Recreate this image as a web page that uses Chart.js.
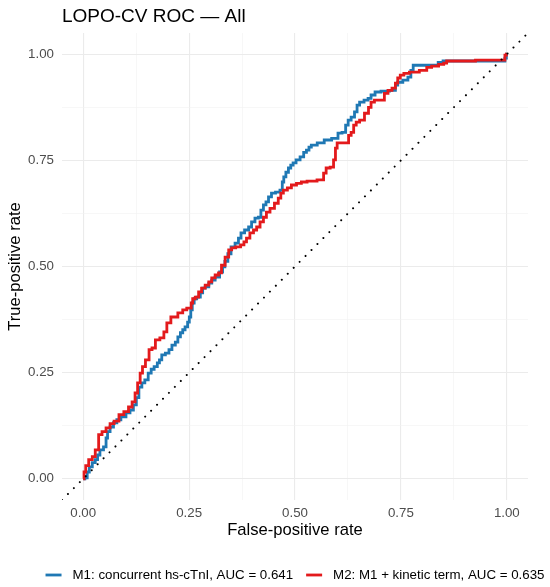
<!DOCTYPE html>
<html>
<head>
<meta charset="utf-8">
<script src="https://cdn.jsdelivr.net/npm/chart.js@4.4.1/dist/chart.umd.min.js"></script>
<style>
  html, body { margin: 0; padding: 0; background: #ffffff; }
  #wrap { width: 550px; height: 587px; position: relative; }
</style>
</head>
<body>
<div id="wrap"><canvas id="c"></canvas></div>
<script>
// ---- Data ----
const chartTitle = 'LOPO-CV ROC \u2014 All';
const xAxisTitle = 'False-positive rate';
const yAxisTitle = 'True-positive rate';
const tickValues = [0, 0.25, 0.5, 0.75, 1];
const minorGridValues = [0.125, 0.375, 0.625, 0.875];

const m1Label = 'M1: concurrent hs-cTnI, AUC = 0.641';
const m1FPR = [0,0.008,0.011,0.018,0.025,0.032,0.036,0.043,0.053,0.055,0.06,0.067,0.076,0.083,0.095,0.107,0.114,0.123,0.128,0.135,0.142,0.149,0.158,0.163,0.172,0.178,0.182,0.189,0.199,0.206,0.213,0.222,0.225,0.234,0.236,0.245,0.248,0.253,0.255,0.26,0.264,0.272,0.281,0.283,0.293,0.3,0.307,0.316,0.328,0.33,0.339,0.344,0.354,0.363,0.37,0.375,0.387,0.394,0.401,0.41,0.417,0.422,0.429,0.434,0.441,0.448,0.46,0.469,0.471,0.476,0.481,0.488,0.492,0.499,0.506,0.518,0.523,0.531,0.535,0.542,0.563,0.575,0.598,0.605,0.617,0.622,0.629,0.636,0.645,0.648,0.657,0.669,0.676,0.683,0.695,0.711,0.735,0.739,0.746,0.763,0.77,0.777,0.781,0.836,0.84,0.859,0.993,0.998,1.0];
const m1TPR = [0,0.002,0.016,0.028,0.038,0.045,0.056,0.068,0.075,0.096,0.111,0.122,0.132,0.139,0.146,0.155,0.162,0.174,0.191,0.216,0.226,0.233,0.249,0.258,0.264,0.273,0.28,0.292,0.296,0.304,0.315,0.322,0.334,0.344,0.351,0.358,0.369,0.381,0.398,0.414,0.424,0.428,0.438,0.449,0.452,0.461,0.468,0.475,0.487,0.499,0.512,0.53,0.546,0.555,0.567,0.579,0.586,0.593,0.605,0.614,0.616,0.633,0.645,0.652,0.664,0.673,0.675,0.68,0.699,0.711,0.722,0.732,0.739,0.744,0.751,0.758,0.769,0.774,0.781,0.786,0.791,0.798,0.802,0.814,0.816,0.833,0.845,0.852,0.864,0.88,0.887,0.892,0.896,0.904,0.911,0.913,0.915,0.927,0.934,0.939,0.946,0.962,0.974,0.974,0.981,0.984,0.984,0.991,1.0];

const m2Label = 'M2: M1 + kinetic term, AUC = 0.635';
const m2FPR = [0,0.004,0.008,0.018,0.025,0.032,0.041,0.048,0.06,0.067,0.079,0.09,0.102,0.112,0.119,0.126,0.131,0.138,0.142,0.152,0.159,0.166,0.175,0.187,0.194,0.201,0.213,0.234,0.236,0.253,0.257,0.26,0.269,0.276,0.283,0.293,0.3,0.307,0.316,0.323,0.33,0.34,0.347,0.354,0.366,0.377,0.382,0.389,0.398,0.406,0.413,0.422,0.429,0.436,0.446,0.457,0.464,0.469,0.476,0.488,0.495,0.512,0.518,0.539,0.565,0.57,0.577,0.589,0.593,0.598,0.601,0.624,0.629,0.636,0.641,0.648,0.657,0.671,0.676,0.683,0.692,0.706,0.716,0.723,0.735,0.739,0.746,0.751,0.763,0.777,0.81,0.812,0.833,0.845,0.857,0.859,0.993,0.998,1.0];
const m2TPR = [0,0.016,0.031,0.045,0.052,0.068,0.104,0.111,0.12,0.13,0.136,0.151,0.158,0.169,0.181,0.202,0.226,0.249,0.264,0.28,0.304,0.308,0.327,0.332,0.346,0.367,0.381,0.391,0.398,0.402,0.414,0.424,0.428,0.44,0.449,0.456,0.464,0.473,0.48,0.485,0.503,0.522,0.539,0.544,0.546,0.551,0.558,0.567,0.579,0.586,0.593,0.605,0.616,0.628,0.637,0.649,0.661,0.673,0.68,0.685,0.692,0.696,0.699,0.701,0.704,0.72,0.732,0.734,0.751,0.779,0.791,0.791,0.809,0.816,0.833,0.84,0.845,0.861,0.875,0.887,0.892,0.892,0.908,0.915,0.92,0.932,0.944,0.951,0.955,0.958,0.962,0.969,0.972,0.976,0.979,0.984,0.986,0.998,1.0];

const chanceX = [-0.05, 1.05];
const chanceY = [-0.05, 1.05];

// ---- Style ----
const FONT = "'Liberation Sans', Arial, Helvetica, sans-serif";
const BLUE = '#1F78B4';
const RED = '#E31A1C';

function pts(xs, ys) { return xs.map((x, i) => ({ x: x, y: ys[i] })); }

const allGrid = tickValues.concat(minorGridValues).sort((a, b) => a - b);
function isMajor(v) { return tickValues.some(t => Math.abs(t - v) < 1e-9); }

function gridOpts() {
  return {
    color: (ctx) => isMajor(ctx.tick.value) ? '#EBEBEB' : '#F2F2F2',
    lineWidth: (ctx) => isMajor(ctx.tick.value) ? 1.1 : 0.6,
    drawTicks: false
  };
}

const titlePlugin = {
  id: 'ggTitle',
  afterDraw(chart) {
    const ctx = chart.ctx;
    ctx.save();
    ctx.font = '19px ' + FONT;
    ctx.fillStyle = '#000000';
    ctx.textAlign = 'left';
    ctx.textBaseline = 'alphabetic';
    ctx.fillText(chartTitle, chart.chartArea.left, 22);
    ctx.restore();
  }
};

const legendPlugin = {
  id: 'ggLegend',
  afterDraw(chart) {
    const ctx = chart.ctx;
    const items = chart.data.datasets.filter(d => d.legendIndex !== undefined)
      .sort((a, b) => a.legendIndex - b.legendIndex);
    ctx.save();
    ctx.font = '13.3px ' + FONT;
    const lineW = 16, gapText = 11, gapItem = 13;
    const widths = items.map(d => ctx.measureText(d.label).width);
    let total = 0;
    widths.forEach((w, i) => { total += lineW + gapText + w + (i < items.length - 1 ? gapItem : 0); });
    const cx = (chart.chartArea.left + chart.chartArea.right) / 2;
    let x = cx - total / 2;
    const y = 575;
    items.forEach((d, i) => {
      ctx.strokeStyle = d.borderColor;
      ctx.lineWidth = 2.8;
      ctx.lineCap = 'butt';
      ctx.beginPath();
      ctx.moveTo(x, y);
      ctx.lineTo(x + lineW, y);
      ctx.stroke();
      x += lineW + gapText;
      ctx.fillStyle = '#000000';
      ctx.textAlign = 'left';
      ctx.textBaseline = 'middle';
      ctx.fillText(d.label, x, y);
      x += widths[i] + gapItem;
    });
    ctx.restore();
  }
};

new Chart(document.getElementById('c'), {
  type: 'scatter',
  data: {
    datasets: [
      {
        label: 'chance',
        data: pts(chanceX, chanceY),
        showLine: true,
        borderColor: '#000000',
        borderWidth: 2,
        borderDash: [0.01, 8.4],
        borderCapStyle: 'round',
        pointRadius: 0,
        fill: false,
        order: 0
      },
      {
        label: m2Label,
        data: pts(m2FPR, m2TPR),
        showLine: true,
        stepped: 'middle',
        borderColor: RED,
        borderWidth: 2.8,
        borderJoinStyle: 'miter',
        pointRadius: 0,
        fill: false,
        order: 1,
        legendIndex: 1
      },
      {
        label: m1Label,
        data: pts(m1FPR, m1TPR),
        showLine: true,
        stepped: 'middle',
        borderColor: BLUE,
        borderWidth: 2.8,
        borderJoinStyle: 'miter',
        pointRadius: 0,
        fill: false,
        order: 2,
        legendIndex: 0
      }
    ]
  },
  options: {
    responsive: true,
    maintainAspectRatio: false,
    animation: false,
    events: [],
    layout: { padding: { top: 33, right: 22, bottom: 39, left: 0 } },
    plugins: {
      legend: { display: false },
      title: { display: false },
      tooltip: { enabled: false }
    },
    scales: {
      x: {
        type: 'linear',
        min: -0.05,
        max: 1.05,
        afterBuildTicks: (s) => { s.ticks = allGrid.map(v => ({ value: v })); },
        afterFit: (s) => { s.height = 48; },
        grid: gridOpts(),
        border: { display: false },
        ticks: {
          padding: 5,
          autoSkip: false,
          maxRotation: 0,
          color: '#4D4D4D',
          font: { family: FONT, size: 13.3 },
          callback: (v) => isMajor(v) ? Number(v).toFixed(2) : ''
        },
        title: {
          display: true,
          text: xAxisTitle,
          color: '#000000',
          font: { family: FONT, size: 16.6 },
          padding: { top: 0, bottom: 8 }
        }
      },
      y: {
        type: 'linear',
        min: -0.05,
        max: 1.05,
        afterBuildTicks: (s) => { s.ticks = allGrid.map(v => ({ value: v })); },
        afterFit: (s) => { s.width = 62; },
        grid: gridOpts(),
        border: { display: false },
        ticks: {
          padding: 8,
          autoSkip: false,
          color: '#4D4D4D',
          font: { family: FONT, size: 13.3 },
          callback: (v) => isMajor(v) ? Number(v).toFixed(2) : ''
        },
        title: {
          display: true,
          text: yAxisTitle,
          color: '#000000',
          font: { family: FONT, size: 16.6 },
          padding: { top: 5, bottom: 0 }
        }
      }
    }
  },
  plugins: [titlePlugin, legendPlugin]
});
</script>
</body>
</html>
